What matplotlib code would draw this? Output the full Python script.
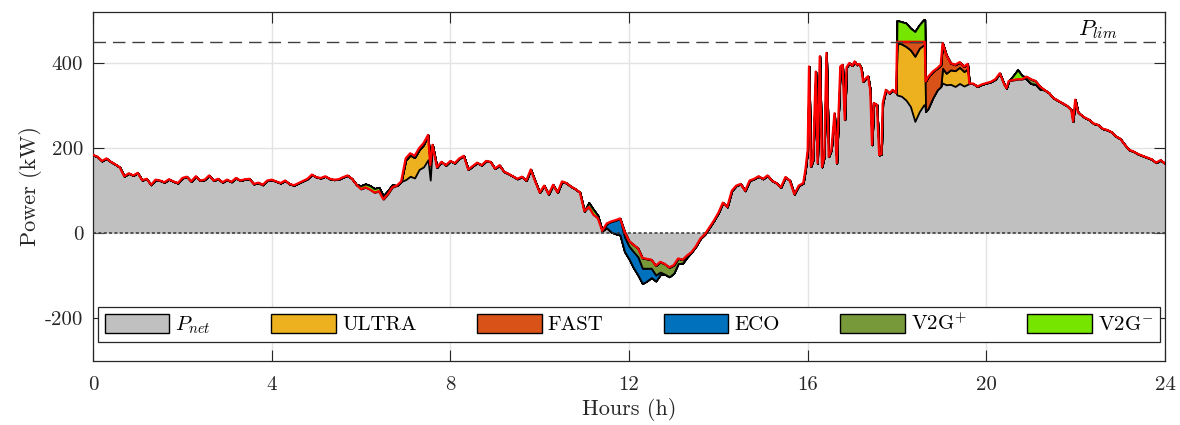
import numpy as np
import matplotlib
matplotlib.use('Agg')
import matplotlib.pyplot as plt
from matplotlib.patches import Patch

# Potencia neta del sistema (kW)
hours = [
    0.0, 0.1, 0.2, 0.3, 0.4, 0.5, 0.6, 0.7, 0.8, 0.9, 1.0, 1.1, 1.2, 1.3, 1.4, 1.5, 1.6, 1.7, 1.8, 1.9,
    2.0, 2.1, 2.2, 2.3, 2.4, 2.5, 2.6, 2.7, 2.8, 2.9, 3.0, 3.1, 3.2, 3.3, 3.4, 3.5, 3.6, 3.7, 3.8, 3.9,
    4.0, 4.1, 4.2, 4.3, 4.4, 4.5, 4.6, 4.7, 4.8, 4.9, 5.0, 5.1, 5.2, 5.3, 5.4, 5.5, 5.6, 5.7, 5.8, 5.9,
    6.0, 6.1, 6.2, 6.3, 6.4, 6.5, 6.6, 6.7, 6.8, 6.9, 7.0, 7.1, 7.2, 7.3, 7.4, 7.5, 7.55, 7.6, 7.7, 7.8, 7.9,
    8.0, 8.1, 8.2, 8.3, 8.4, 8.5, 8.6, 8.7, 8.8, 8.9, 9.0, 9.1, 9.2, 9.3, 9.4, 9.5, 9.6, 9.7, 9.8, 9.9,
    10.0, 10.1, 10.2, 10.3, 10.4, 10.5, 10.6, 10.7, 10.8, 10.9, 11.0, 11.1, 11.2, 11.3, 11.4, 11.5, 11.6,
    11.7, 11.8, 11.9, 12.0, 12.1, 12.2, 12.3, 12.4, 12.5, 12.6, 12.7, 12.8, 12.9, 13.0, 13.1, 13.2, 13.3,
    13.4, 13.5, 13.6, 13.7, 13.8, 13.9, 14.0, 14.1, 14.2, 14.3, 14.4, 14.5, 14.6, 14.7, 14.8, 14.9,
    15.0, 15.1, 15.2, 15.3, 15.4, 15.5, 15.6, 15.7, 15.8, 15.9, 15.95, 16.0, 16.03, 16.07, 16.12, 16.18,
    16.22, 16.27, 16.32, 16.37, 16.42, 16.47, 16.53, 16.6, 16.65, 16.73, 16.78, 16.83, 16.87, 16.93,
    17.0, 17.05, 17.1, 17.15, 17.2, 17.24, 17.3, 17.35, 17.4, 17.44, 17.48, 17.55, 17.6, 17.65, 17.68,
    17.75, 17.83, 17.9, 17.98, 18.0, 18.1, 18.2, 18.3, 18.4, 18.5, 18.6, 18.62, 18.64, 18.7, 18.8, 18.9,
    18.98, 19.02, 19.1, 19.2, 19.3, 19.4, 19.5, 19.58, 19.62, 19.7, 19.8, 19.9, 20.0, 20.1, 20.2, 20.3,
    20.4, 20.45, 20.5, 20.6, 20.7, 20.8, 20.9, 21.0, 21.1, 21.2, 21.3, 21.4, 21.5, 21.6, 21.7, 21.8,
    21.9, 21.94, 21.99, 22.05, 22.1, 22.2, 22.3, 22.4, 22.5, 22.6, 22.7, 22.8, 22.9, 23.0, 23.1, 23.2,
    23.3, 23.4, 23.5, 23.6, 23.7, 23.8, 23.9, 24.0]
p_net = [
    184, 180, 170, 176, 168, 162, 155, 134, 141, 136, 142, 125, 128, 114, 126, 124, 120, 127, 122, 118,
    130, 133, 122, 134, 124, 126, 136, 124, 128, 120, 126, 121, 130, 124, 127, 128, 116, 119, 114, 124,
    126, 122, 118, 124, 116, 113, 118, 123, 128, 138, 132, 130, 134, 128, 126, 127, 132, 136, 128, 114,
    104, 108, 103, 96, 99, 80, 92, 108, 112, 122, 176, 188, 182, 200, 212, 231, 160, 208, 155, 168, 160,
    170, 165, 176, 182, 150, 158, 166, 160, 170, 168, 152, 160, 145, 140, 134, 128, 133, 124, 150, 122,
    96, 112, 92, 114, 96, 122, 118, 110, 104, 96, 52, 62, 44, 36, 6, 23, 28,
    31, 35, 4, -18, -27, -35, -58, -60, -62, -76, -67, -72, -80, -75, -59, -62, -52,
    -44, -30, -12, -2, 14, 30, 48, 72, 62, 100, 112, 116, 100, 124, 128, 134,
    128, 136, 124, 118, 108, 132, 124, 92, 112, 118, 150, 196, 392, 157, 172, 380,
    165, 416, 156, 180, 424, 180, 196, 282, 165, 392, 396, 267, 390, 400,
    394, 404, 396, 398, 388, 357, 364, 369, 337, 208, 306, 302, 184, 186, 306,
    337, 329, 337, 330, 450, 450, 450, 450, 450, 450, 450, 450, 357, 368, 380, 388,
    396, 447, 420, 400, 396, 402, 392, 398, 352, 352, 345, 350, 353, 356, 362, 376,
    350, 341, 358, 360, 362, 362, 368, 362, 358, 345, 337, 330, 318, 312, 306, 300,
    290, 263, 314, 285, 280, 272, 267, 258, 255, 246, 243, 238, 228, 222, 208, 196,
    192, 186, 182, 178, 174, 166, 172, 164]

# Cargas de los vehiculos por tipo (kW), solo donde no son cero
ultra_hours = [6.9, 7.0, 7.1, 7.2, 7.3, 7.4, 7.5, 7.55, 7.6,
               17.98, 18.0, 18.1, 18.2, 18.3, 18.4, 18.5, 18.6, 18.62, 18.64,
               18.98, 19.02, 19.1, 19.2, 19.3, 19.4, 19.5, 19.58, 19.62]
ultra_kw = [0, 46, 50, 48, 46, 52, 58, 35, 0,
            0, 122, 123, 126, 133, 153, 149, 141, 141, 0,
            0, 35, 27, 34, 37, 38, 34, 36, 0]

fast_hours = [17.98, 18.0, 18.1, 18.2, 18.3, 18.4, 18.5, 18.6, 18.62, 18.64, 18.7, 18.8, 18.9,
              18.98, 19.02, 19.1, 19.2, 19.3, 19.4, 19.5, 19.58, 19.62]
fast_kw = [0, 53, 52, 55, 51, 58, 55, 59, 59, 71, 74, 62, 51,
           51, 59, 44, 16, 14, 12, 12, 12, 0]

eco_hours = [11.4, 11.5, 11.6, 11.7, 11.8, 11.9, 12.0, 12.1, 12.2, 12.3, 12.4, 12.5, 12.6, 12.7, 12.8]
eco_kw = [0, 10, 25, 32, 39, 35, 30, 38, 43, 36, 30, 22, 14, 6, 0]

v2g_plus_hours = [6.9, 7.0, 7.1, 7.2, 7.3, 7.4, 7.5,
                  11.8, 11.9, 12.0, 12.1, 12.2, 12.3, 12.4, 12.5, 12.6, 12.7, 12.8, 12.9, 13.0,
                  13.1, 13.2, 13.3, 13.4,
                  20.8, 20.9, 21.0, 21.1, 21.2, 21.3]
v2g_plus_kw = [0, 4, 4, 4, 4, 4, 0,
               0, 12, 12, 16, 20, 24, 22, 20, 22, 24, 24, 22, 19,
               12, 8, 4, 0,
               0, 6, 10, 8, 6, 0]

v2g_minus_hours = [5.9, 6.0, 6.1, 6.2, 6.3, 6.4, 6.5, 6.6, 6.7, 6.8,
                   11.0, 11.1, 11.2, 11.3, 11.4,
                   17.98, 18.0, 18.1, 18.2, 18.3, 18.4, 18.5, 18.6, 18.62, 18.64,
                   20.5, 20.6, 20.7, 20.8, 20.9]
v2g_minus_kw = [0, 8, 8, 9, 9, 9, 8, 8, 6, 0,
                0, 10, 12, 6, 0,
                0, 50, 47, 44, 32, 24, 40, 52, 52, 0,
                0, 10, 22, 8, 0]

p_lim = 450

hours = np.round(np.array(hours, dtype=float), 2)
p_net = np.array(p_net, dtype=float)


def on_grid(seg_hours, seg_kw):
    # coloca los valores de un tramo sobre la malla de horas (mismas horas)
    out = np.zeros(len(hours))
    idx = np.searchsorted(hours, np.round(np.array(seg_hours, dtype=float), 2))
    out[idx] = seg_kw
    return out


ultra = on_grid(ultra_hours, ultra_kw)
fast = on_grid(fast_hours, fast_kw)
eco = on_grid(eco_hours, eco_kw)
v2g_plus = on_grid(v2g_plus_hours, v2g_plus_kw)
v2g_minus = on_grid(v2g_minus_hours, v2g_minus_kw)

# carga base = potencia neta sin los vehiculos
base = p_net - ultra - fast - eco - v2g_plus + v2g_minus

c_net = '#C0C0C0'
c_ultra = '#EDB120'
c_fast = '#D95319'
c_eco = '#0072BD'
c_v2gp = '#77993A'
c_v2gm = '#76E600'

plt.rcParams['font.family'] = 'cmr10'
plt.rcParams['mathtext.fontset'] = 'cm'
plt.rcParams['axes.unicode_minus'] = False
plt.rcParams['axes.formatter.use_mathtext'] = False

fig = plt.figure(figsize=(11.8, 4.25), dpi=100)
ax = fig.add_axes([0.0788, 0.1506, 0.9085, 0.8212])

ax.grid(True, color='#E3E3E3', linewidth=1.0)
ax.set_axisbelow(True)

# area de la potencia neta
ax.fill_between(hours, 0, p_net, facecolor=c_net, edgecolor='none', zorder=2)

# areas apiladas de los vehiculos sobre la carga base
lo = base.copy()
for comp, col in [(ultra, c_ultra), (fast, c_fast), (eco, c_eco), (v2g_plus, c_v2gp)]:
    hi = lo + comp
    ax.fill_between(hours, lo, hi, facecolor=col, edgecolor='black', linewidth=1.3, zorder=3)
    lo = hi
ax.fill_between(hours, p_net, p_net + v2g_minus, facecolor=c_v2gm, edgecolor='black',
                linewidth=1.3, zorder=3)

ax.axhline(0, color='#333333', linewidth=1.1, linestyle=(0, (2, 1.5)), zorder=3)
ax.plot(hours, p_net, color='red', linewidth=1.6, zorder=4)

ax.axhline(p_lim, color='#404040', linewidth=1.0, linestyle=(0, (9, 5)), zorder=4)
ax.text(22.5, 478, r'$P_{lim}$', fontsize=16, ha='center', va='center')

ax.set_xlim(0, 24)
ax.set_ylim(-300, 520)
ax.set_xticks(np.arange(0, 25, 4))
ax.set_yticks([-200, 0, 200, 400])
ax.tick_params(direction='in', length=8, width=0.8, top=True, right=True,
               labelsize=15, colors='#262626', pad=7)
ax.tick_params(axis='x', pad=11)
for s in ax.spines.values():
    s.set_color('#262626')
    s.set_linewidth(0.9)

ax.set_xlabel('Hours (h)', fontsize=16, color='#262626', labelpad=3)
ax.set_ylabel('Power (kW)', fontsize=16, color='#262626', labelpad=2)

handles = [Patch(facecolor=c, edgecolor='black', linewidth=1.0)
           for c in [c_net, c_ultra, c_fast, c_eco, c_v2gp, c_v2gm]]
labels = [r'$P_{net}$', 'ULTRA', 'FAST', 'ECO', r'V2G$^{+}$', r'V2G$^{-}$']
leg = ax.legend(handles, labels, ncol=6, loc='lower left', mode='expand',
                bbox_to_anchor=(0.005, 0.054, 0.99, 0.086), fontsize=15,
                handlelength=3.1, handleheight=1.0, handletextpad=0.3,
                borderpad=0.3, fancybox=False, framealpha=1, borderaxespad=0)
leg.get_frame().set_edgecolor('#262626')
leg.get_frame().set_linewidth(0.9)
leg.set_zorder(6)

plt.savefig('out.png', dpi=100)
